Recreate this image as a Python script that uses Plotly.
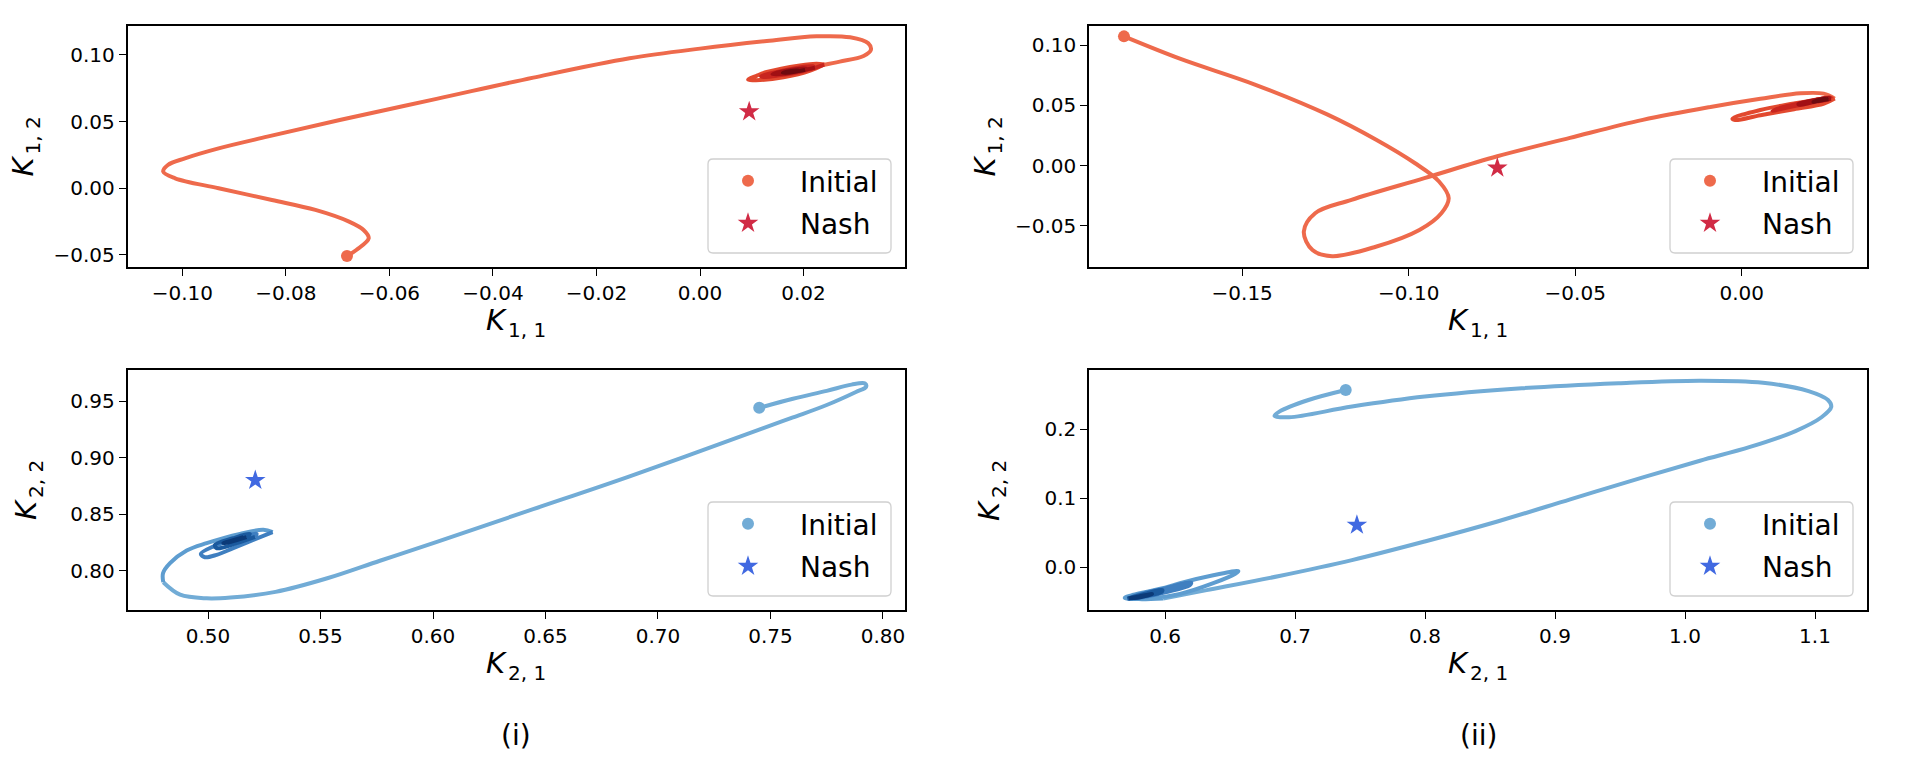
import plotly.graph_objects as go

W, H = 1906, 776

# ---------------- data ----------------
# panel (i) top : K_{1,1} vs K_{1,2}; trajectory split into colour stages
tl_x = [
    [-0.0682, -0.0664, -0.0640, -0.0650, -0.0678, -0.0743, -0.0827, -0.0930, -0.1014, -0.1037,
     -0.1028, -0.0995, -0.0930, -0.0836, -0.0696, -0.0509, -0.0322, -0.0136, 0.0000, 0.0129,
     0.0225, 0.0290, 0.0325, 0.0330, 0.0316, 0.0270, 0.0238],
    [0.0213, 0.0161, 0.0116, 0.0093, 0.0110, 0.0129, 0.0193, 0.0225, 0.0240],
    [0.0200, 0.0150, 0.0125, 0.0118, 0.0140, 0.0190, 0.0218, 0.0222],
    [0.0195, 0.0160, 0.0140, 0.0150, 0.0185, 0.0205, 0.0203],
    [0.0180, 0.0160, 0.0168, 0.0190, 0.0185],
]
tl_y = [
    [-0.0511, -0.0466, -0.0378, -0.0316, -0.0253, -0.0165, -0.0090, -0.0002, 0.0073, 0.0123,
     0.0173, 0.0223, 0.0298, 0.0386, 0.0511, 0.0670, 0.0830, 0.0975, 0.1048, 0.1105,
     0.1140, 0.1133, 0.1088, 0.1038, 0.0993, 0.0950, 0.0925],
    [0.0882, 0.0832, 0.0812, 0.0815, 0.0845, 0.0872, 0.0922, 0.0935, 0.0928],
    [0.0880, 0.0845, 0.0835, 0.0840, 0.0865, 0.0905, 0.0915, 0.0905],
    [0.0882, 0.0858, 0.0855, 0.0868, 0.0893, 0.0898, 0.0888],
    [0.0872, 0.0865, 0.0875, 0.0885, 0.0878],
]
tl_nash = [0.0095, 0.0574]

# panel (ii) top
tr_x = [
    [-0.1855, -0.1683, -0.1464, -0.1245, -0.1099, -0.0982, -0.0909, -0.0880, -0.0902, -0.0968,
     -0.1099, -0.1230, -0.1289, -0.1315, -0.1281, -0.1172, -0.0953, -0.0734, -0.0516, -0.0297,
     -0.0094, 0.0056, 0.0176, 0.0246, 0.0279],
    [0.0247, 0.0157, 0.0056, -0.0020, -0.0028, 0.0056, 0.0157, 0.0237, 0.0270, 0.0262],
    [0.0207, 0.0117, 0.0092, 0.0117, 0.0207, 0.0265, 0.0268],
    [0.0225, 0.0175, 0.0170, 0.0220, 0.0262, 0.0260],
    [0.0235, 0.0215, 0.0232, 0.0255, 0.0248],
]
tr_y = [
    [0.1072, 0.0883, 0.0675, 0.0425, 0.0217, 0.0022, -0.0131, -0.0269, -0.0394, -0.0533,
     -0.0672, -0.0750, -0.0700, -0.0547, -0.0394, -0.0283, -0.0103, 0.0078, 0.0231, 0.0380,
     0.0487, 0.0555, 0.0600, 0.0597, 0.0556],
    [0.0515, 0.0468, 0.0418, 0.0378, 0.0390, 0.0462, 0.0515, 0.0553, 0.0563, 0.0548],
    [0.0522, 0.0470, 0.0455, 0.0480, 0.0535, 0.0565, 0.0555],
    [0.0533, 0.0505, 0.0512, 0.0543, 0.0563, 0.0553],
    [0.0540, 0.0530, 0.0545, 0.0555, 0.0550],
]
tr_nash = [-0.0734, -0.0019]

# panel (i) bottom : K_{2,1} vs K_{2,2}
bl_x = [
    [0.7450, 0.7600, 0.7750, 0.7860, 0.7920, 0.7925, 0.7880, 0.7750, 0.7600, 0.7450,
     0.6874, 0.6445, 0.6014, 0.5764, 0.5530, 0.5300, 0.5100, 0.4994, 0.4876, 0.4801],
    [0.4800, 0.4831, 0.4905, 0.4994, 0.5142, 0.5246, 0.5287],
    [0.5201, 0.5112, 0.5038, 0.4986, 0.4968, 0.5023, 0.5142, 0.5216, 0.5209],
    [0.5127, 0.5038, 0.5031, 0.5112, 0.5186, 0.5171],
    [0.5097, 0.5068, 0.5127, 0.5157],
]
bl_y = [
    [0.9440, 0.9520, 0.9590, 0.9645, 0.9655, 0.9625, 0.9580, 0.9465, 0.9355, 0.9248,
     0.8835, 0.8545, 0.8255, 0.8090, 0.7935, 0.7815, 0.7765, 0.7758, 0.7790, 0.7900],
    [0.7980, 0.8068, 0.8180, 0.8245, 0.8327, 0.8363, 0.8342],
    [0.8274, 0.8201, 0.8142, 0.8121, 0.8150, 0.8215, 0.8289, 0.8327, 0.8300],
    [0.8245, 0.8201, 0.8230, 0.8289, 0.8327, 0.8298],
    [0.8254, 0.8245, 0.8280, 0.8298],
]
bl_nash = [0.5210, 0.8800]

# panel (ii) bottom
br_x = [
    [0.7390, 0.7103, 0.6879, 0.6842, 0.6954, 0.7438, 0.7998, 0.8744, 0.9489, 1.0115,
     1.0600, 1.0950, 1.1100, 1.1125, 1.1050, 1.0850, 1.0500, 1.0115, 0.9676, 0.9117,
     0.8557, 0.7998, 0.7438, 0.6879, 0.6320, 0.6115, 0.5985],
    [0.5800, 0.5690, 0.5750, 0.6000, 0.6115, 0.6371, 0.6564, 0.6540, 0.6371, 0.6115, 0.5900, 0.5720],
    [0.5780, 0.6000, 0.6200, 0.6190, 0.6000, 0.5800, 0.5710],
    [0.5790, 0.5980, 0.5970, 0.5820, 0.5720],
    [0.5800, 0.5900, 0.5870, 0.5760, 0.5740],
]
br_y = [
    [0.2565, 0.2420, 0.2252, 0.2190, 0.2170, 0.2325, 0.2470, 0.2591, 0.2664, 0.2700,
     0.2670, 0.2550, 0.2420, 0.2320, 0.2170, 0.1970, 0.1740, 0.1540, 0.1300, 0.0980,
     0.0660, 0.0370, 0.0100, -0.0130, -0.0335, -0.0410, -0.0455],
    [-0.0465, -0.0448, -0.0405, -0.0300, -0.0235, -0.0120, -0.0058, -0.0098, -0.0235, -0.0390, -0.0452, -0.0462],
    [-0.0410, -0.0310, -0.0225, -0.0262, -0.0365, -0.0445, -0.0458],
    [-0.0415, -0.0335, -0.0365, -0.0430, -0.0455],
    [-0.0425, -0.0390, -0.0410, -0.0450, -0.0448],
]
br_nash = [0.7476, 0.0609]

label_symbol = "K"
x_subs = ["1, 1", "1, 1", "2, 1", "2, 1"]
y_subs = ["1, 2", "1, 2", "2, 2", "2, 2"]
legend_names = ["Initial", "Nash"]
panel_tags = ["(i)", "(ii)"]

# ---------------- styles / layout ----------------
REDS = ["#ee6a4c", "#e2492f", "#c8251f", "#a11014", "#6e0a10"]
BLUES = ["#72acd6", "#5e9dd0", "#3f7fc0", "#1b5a9e", "#0b3a78"]
FONT = "DejaVu Sans"
FONT_IT = "DejaVu Sans Oblique, DejaVu Sans"
LAB, SUB = 29, 20

panels = [
    dict(px=(127.5, 905), py=(26, 267), xr=(-0.1106, 0.0396), yr=(-0.0594, 0.1218),
         xd=0.02, yd=0.05, xf=".2f", yf=".2f", X=tl_x, Y=tl_y, nash=tl_nash,
         cols=REDS, init="#ee6a4c", star="#d12b45", kx=22),
    dict(px=(1089, 1867), py=(26, 267), xr=(-0.1960, 0.0376), yr=(-0.0840, 0.1158),
         xd=0.05, yd=0.05, xf=".2f", yf=".2f", X=tr_x, Y=tr_y, nash=tr_nash,
         cols=REDS, init="#ee6a4c", star="#d12b45", kx=984),
    dict(px=(127.5, 905), py=(370, 610), xr=(0.4642, 0.8098), yr=(0.7655, 0.9774),
         xd=0.05, yd=0.05, xf=".2f", yf=".2f", X=bl_x, Y=bl_y, nash=bl_nash,
         cols=BLUES, init="#72acd6", star="#4169e1", kx=26),
    dict(px=(1089, 1867), py=(370, 610), xr=(0.5415, 1.1400), yr=(-0.0623, 0.2855),
         xd=0.1, yd=0.1, xf=".1f", yf=".1f", X=br_x, Y=br_y, nash=br_nash,
         cols=BLUES, init="#72acd6", star="#4169e1", kx=989),
]


def fx(p):
    return p / W


def fy(p):
    return 1 - p / H


def ann(text, x, y, size, angle=0, italic=False):
    return dict(text=text, x=fx(x), y=fy(y), xref="paper", yref="paper",
                xanchor="center", yanchor="middle", showarrow=False, textangle=angle,
                font=dict(family=FONT, size=size, color="black", style="italic" if italic else "normal"))


fig = go.Figure()
layout = dict(width=W, height=H, margin=dict(l=0, r=0, t=0, b=0, pad=0),
              paper_bgcolor="white", plot_bgcolor="white", showlegend=True,
              font=dict(family=FONT, color="black"))
annotations = []
shapes = []

for i, p in enumerate(panels):
    k = "" if i == 0 else str(i + 1)
    xa, ya = "x" + k, "y" + k
    leg = "legend" + k
    prev = None
    for s, (sx, sy) in enumerate(zip(p["X"], p["Y"])):
        xs, ys = list(sx), list(sy)
        if prev is not None:
            xs = [prev[0]] + xs
            ys = [prev[1]] + ys
        prev = (xs[-1], ys[-1])
        fig.add_trace(go.Scatter(x=xs, y=ys, mode="lines", xaxis=xa, yaxis=ya,
                                 line=dict(color=p["cols"][s], width=4, shape="spline", smoothing=1.0),
                                 showlegend=False, hoverinfo="skip"))
    fig.add_trace(go.Scatter(x=[p["X"][0][0]], y=[p["Y"][0][0]], mode="markers", xaxis=xa, yaxis=ya,
                             name=legend_names[0], legend=leg, legendgroup="a",
                             marker=dict(size=12, color=p["init"], line=dict(width=0))))
    fig.add_trace(go.Scatter(x=[p["nash"][0]], y=[p["nash"][1]], mode="markers", xaxis=xa, yaxis=ya,
                             name=legend_names[1], legend=leg, legendgroup="b",
                             marker=dict(size=15.5, symbol="star", color=p["star"], line=dict(width=0))))

    axcommon = dict(showline=True, linecolor="black", linewidth=1.5, mirror=True,
                    ticks="outside", ticklen=7, tickwidth=1.4, tickcolor="black",
                    showgrid=False, zeroline=False, tick0=0,
                    tickfont=dict(family=FONT, size=20, color="black"))
    layout["xaxis" + k] = dict(axcommon, domain=[fx(p["px"][0]), fx(p["px"][1])], range=list(p["xr"]),
                               dtick=p["xd"], tickformat=p["xf"], anchor=ya)
    layout["yaxis" + k] = dict(axcommon, domain=[fy(p["py"][1]), fy(p["py"][0])], range=list(p["yr"]),
                               dtick=p["yd"], tickformat=p["yf"], anchor=xa)

    cx = (p["px"][0] + p["px"][1]) / 2
    cy = (p["py"][0] + p["py"][1]) / 2
    # x label: italic K followed by a lowered, smaller subscript
    ky = p["py"][1] + 53
    annotations.append(ann(label_symbol, cx - 20, ky, LAB, italic=True))
    annotations.append(ann(x_subs[i], cx + 11, ky + 10, SUB))
    # y label (rotated): K at the bottom, subscript above it and shifted right
    annotations.append(ann(label_symbol, p["kx"], cy + 20, LAB, angle=-90, italic=True))
    annotations.append(ann(y_subs[i], p["kx"] + 10, cy - 11, SUB, angle=-90))

    # legend frame (rounded) and legend
    bx0 = p["px"][1] - 197
    bx1 = p["px"][1] - 14
    by1 = p["py"][1] - 14
    by0 = by1 - 94
    r = 5
    path = (f"M {fx(bx0 + r)},{fy(by0)} L {fx(bx1 - r)},{fy(by0)} Q {fx(bx1)},{fy(by0)} {fx(bx1)},{fy(by0 + r)} "
            f"L {fx(bx1)},{fy(by1 - r)} Q {fx(bx1)},{fy(by1)} {fx(bx1 - r)},{fy(by1)} "
            f"L {fx(bx0 + r)},{fy(by1)} Q {fx(bx0)},{fy(by1)} {fx(bx0)},{fy(by1 - r)} "
            f"L {fx(bx0)},{fy(by0 + r)} Q {fx(bx0)},{fy(by0)} {fx(bx0 + r)},{fy(by0)} Z")
    shapes.append(dict(type="path", path=path, xref="paper", yref="paper", layer="above",
                       fillcolor="rgba(255,255,255,0.8)", line=dict(color="#d0d0d0", width=1.3)))
    layout[leg] = dict(x=fx(bx0 - 12), y=fy(by0 - 3), xanchor="left", yanchor="top",
                       bgcolor="rgba(0,0,0,0)", borderwidth=0, itemwidth=94,
                       tracegroupgap=3, itemsizing="trace",
                       font=dict(family=FONT, size=28, color="black"))

for j, tag in enumerate(panel_tags):
    p = panels[j]
    cx = (p["px"][0] + p["px"][1]) / 2
    annotations.append(ann(tag, cx, 735, 28))

layout["annotations"] = annotations
layout["shapes"] = shapes
fig.update_layout(**layout)

fig.write_html("out.html", config={"displayModeBar": False},
               post_script="document.body.style.margin='0';document.body.style.overflow='hidden';")
